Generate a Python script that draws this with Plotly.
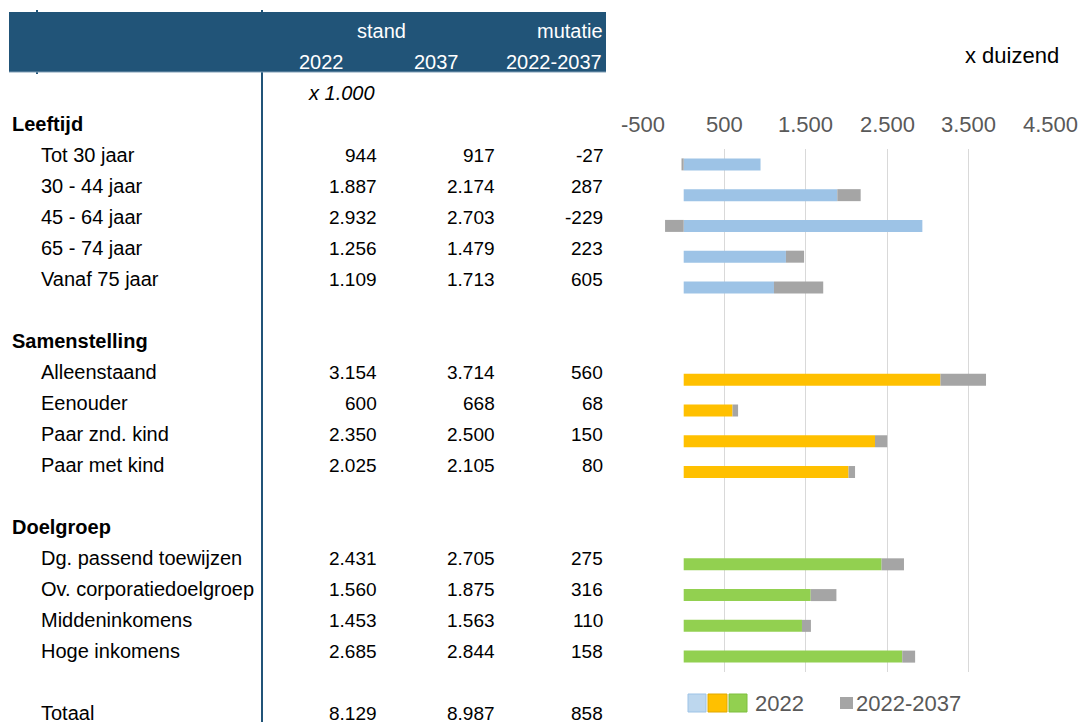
import plotly.graph_objects as go

W, H = 1082, 722

# ---------------- data ----------------
group_titles = ["Leeftijd", "Samenstelling", "Doelgroep"]

leeftijd_labels = ["Tot 30 jaar", "30 - 44 jaar", "45 - 64 jaar", "65 - 74 jaar", "Vanaf 75 jaar"]
leeftijd_2022 = [944, 1887, 2932, 1256, 1109]
leeftijd_2037 = [917, 2174, 2703, 1479, 1713]
leeftijd_mut = [-27, 287, -229, 223, 605]

samenstelling_labels = ["Alleenstaand", "Eenouder", "Paar znd. kind", "Paar met kind"]
samenstelling_2022 = [3154, 600, 2350, 2025]
samenstelling_2037 = [3714, 668, 2500, 2105]
samenstelling_mut = [560, 68, 150, 80]

doelgroep_labels = ["Dg. passend toewijzen", "Ov. corporatiedoelgroep", "Middeninkomens", "Hoge inkomens"]
doelgroep_2022 = [2431, 1560, 1453, 2685]
doelgroep_2037 = [2705, 1875, 1563, 2844]
doelgroep_mut = [275, 316, 110, 158]

totaal_label = "Totaal"
totaal_2022 = 8129
totaal_2037 = 8987
totaal_mut = 858

header_top = ["stand", "mutatie"]
header_cols = ["2022", "2037", "2022-2037"]
unit_table = "x 1.000"
unit_chart = "x duizend"

x_ticks = [-500, 500, 1500, 2500, 3500, 4500]
x_ticklabels = ["-500", "500", "1.500", "2.500", "3.500", "4.500"]
legend_labels = ["2022", "2022-2037"]

# ---------------- style ----------------
FONT = "Arial, Liberation Sans, Helvetica, sans-serif"
NAVY = "#215478"
GREY_TXT = "#595959"
COL_BLUE = "#9DC3E6"
COL_ORANGE = "#FFC000"
COL_GREEN = "#92D050"
COL_GREY = "#A5A5A5"
LABEL_SIZE = 20
NUM_SIZE = 19
HEAD_SIZE = 20
CHART_SIZE = 22


def num(v):
    return f"{v:,}".replace(",", ".")


def px(x):
    return x / W


def py(y):
    return 1 - y / H


def txt(x, y, text, anchor, size=LABEL_SIZE, color="black", xref="x2", yref="y2"):
    return dict(x=x, y=y, xref=xref, yref=yref, text=text, xanchor=anchor, yanchor="middle",
                showarrow=False, font=dict(size=size, color=color, family=FONT))


groups = [
    (group_titles[0], leeftijd_labels, leeftijd_2022, leeftijd_2037, leeftijd_mut, COL_BLUE),
    (group_titles[1], samenstelling_labels, samenstelling_2022, samenstelling_2037, samenstelling_mut, COL_ORANGE),
    (group_titles[2], doelgroep_labels, doelgroep_2022, doelgroep_2037, doelgroep_mut, COL_GREEN),
]

fig = go.Figure()
annotations = []
shapes = []

# column anchors (pixels, right edge of numbers incl. 3px annotation padding)
COL_X = [379, 497, 605]
TITLE_X, LABEL_X = 10, 39

row = 0
all_rows, all_mut = [], []
for title, labels, v22, v37, mut, color in groups:
    annotations.append(txt(TITLE_X, row, f"<b>{title}</b>", "left"))
    rows = []
    for i, lab in enumerate(labels):
        r = row + 1 + i
        rows.append(r)
        annotations.append(txt(LABEL_X, r, lab, "left"))
        for cx, val in zip(COL_X, (v22[i], v37[i], mut[i])):
            annotations.append(txt(cx, r, num(val), "right", size=NUM_SIZE))
    fig.add_trace(go.Bar(y=rows, x=v22, orientation="h", marker=dict(color=color, line=dict(width=0)),
                         width=0.39, showlegend=False, hoverinfo="x+y", xaxis="x", yaxis="y"))
    all_rows += rows
    all_mut += mut
    row = row + len(labels) + 2

# grey mutation bars stacked on 2022
fig.add_trace(go.Bar(y=all_rows, x=all_mut, orientation="h", marker=dict(color=COL_GREY, line=dict(width=0)),
                     width=0.39, showlegend=False, hoverinfo="x+y", xaxis="x", yaxis="y"))

# total row
tot_row = row
annotations.append(txt(LABEL_X, tot_row, totaal_label, "left"))
for cx, val in zip(COL_X, (totaal_2022, totaal_2037, totaal_mut)):
    annotations.append(txt(cx, tot_row, num(val), "right", size=NUM_SIZE))

# unit line under header
annotations.append(txt(377, -1, f"<i>{unit_table}</i>", "right"))

# header texts
annotations.append(txt(381, -3, header_top[0], "center", size=HEAD_SIZE, color="white"))
annotations.append(txt(605, -3, header_top[1], "right", size=HEAD_SIZE, color="white"))
for cx, t in zip([346, 461, 604], header_cols):
    annotations.append(txt(cx, -2, t, "right", size=HEAD_SIZE, color="white"))

# chart unit
annotations.append(txt(px(1061), py(55), unit_chart, "right", size=CHART_SIZE, xref="paper", yref="paper"))

# x tick labels (placed on the bar axis scale)
for v, lab in zip(x_ticks, x_ticklabels):
    annotations.append(txt(v, py(124), lab, "center", size=CHART_SIZE, color=GREY_TXT, xref="x", yref="paper"))

# header band and lines
shapes.append(dict(type="line", xref="paper", yref="paper", x0=px(37), x1=px(37), y0=py(10), y1=py(74),
                   line=dict(color=NAVY, width=2), layer="above"))
shapes.append(dict(type="line", xref="paper", yref="paper", x0=px(262), x1=px(262), y0=py(10), y1=py(722),
                   line=dict(color=NAVY, width=2), layer="above"))
shapes.append(dict(type="rect", xref="paper", yref="paper", x0=px(9), x1=px(606), y0=py(12), y1=py(72),
                   fillcolor=NAVY, line=dict(width=0), layer="above"))
shapes.append(dict(type="line", xref="paper", yref="paper", x0=px(9), x1=px(606), y0=py(72), y1=py(72),
                   line=dict(color="#7F9DB5", width=1), layer="above"))

# custom legend
leg_y0, leg_y1 = py(712), py(694)
for x0, x1, fc, lc in [(688, 706, "#BDD7EE", "#9DC3E6"), (708, 727, COL_ORANGE, "#E0A800"),
                       (729, 747, COL_GREEN, "#7FBF3F")]:
    shapes.append(dict(type="rect", xref="paper", yref="paper", x0=px(x0), x1=px(x1), y0=leg_y0, y1=leg_y1,
                       fillcolor=fc, line=dict(color=lc, width=1)))
shapes.append(dict(type="rect", xref="paper", yref="paper", x0=px(840), x1=px(853), y0=py(709), y1=py(697),
                   fillcolor=COL_GREY, line=dict(width=0)))
annotations.append(txt(px(753), py(703), legend_labels[0], "left", size=CHART_SIZE, color=GREY_TXT,
                       xref="paper", yref="paper"))
annotations.append(txt(px(854), py(703), legend_labels[1], "left", size=CHART_SIZE, color=GREY_TXT,
                       xref="paper", yref="paper"))

# dummy trace to instantiate table axes
fig.add_trace(go.Scatter(x=[0], y=[0], xaxis="x2", yaxis="y2", mode="markers",
                         marker=dict(opacity=0), hoverinfo="skip", showlegend=False))

fig.update_layout(
    width=W, height=H,
    margin=dict(l=0, r=0, t=0, b=0, autoexpand=False),
    paper_bgcolor="white", plot_bgcolor="rgba(0,0,0,0)",
    barmode="relative",
    showlegend=False,
    font=dict(family=FONT),
    xaxis=dict(domain=[px(643), px(1050)], range=[-500, 4500], side="top",
               tickvals=x_ticks, showticklabels=False, ticks="",
               showgrid=True, gridcolor="#D9D9D9", gridwidth=1,
               zeroline=False, showline=False, automargin=False,
               fixedrange=True, anchor="y"),
    yaxis=dict(domain=[py(672), py(149)], range=[17.5, 0.5], visible=False,
               showgrid=False, zeroline=False, fixedrange=True, anchor="x"),
    xaxis2=dict(domain=[0, 1], range=[0, W], visible=False, anchor="y2", fixedrange=True),
    yaxis2=dict(domain=[0, 1], range=[(H - 124) / 31, -124 / 31], visible=False,
                anchor="x2", fixedrange=True),
    annotations=annotations,
    shapes=shapes,
)

fig.write_html("out.html", config={"responsive": False, "displayModeBar": False},
               post_script="document.body.style.margin='0';")
